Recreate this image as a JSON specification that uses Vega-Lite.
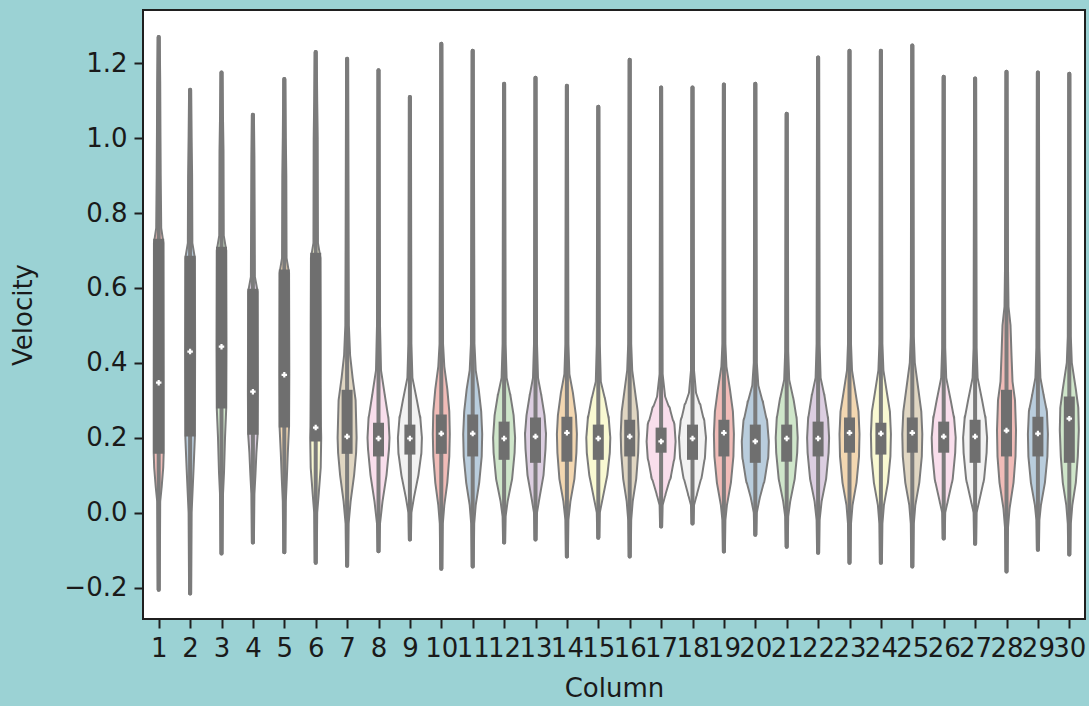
{
  "$schema": "https://vega.github.io/schema/vega-lite/v6.json",
  "width": 942,
  "height": 609,
  "autosize": {"type": "none"},
  "padding": {"left": 143, "top": 10, "right": 4, "bottom": 87},
  "background": "#9bd2d4",
  "config": {
    "view": {"fill": "white", "stroke": "#1f1f1f", "strokeWidth": 2},
    "axis": {"domain": false, "grid": false, "tickColor": "#1f1f1f", "tickWidth": 2, "tickSize": 9, "labelFont": "DejaVu Sans", "labelFontSize": 26, "labelColor": "#1a1a1a", "labelPadding": 7, "titleFont": "DejaVu Sans", "titleFontSize": 26, "titleFontWeight": "normal", "titleColor": "#1a1a1a"}
  },
  "datasets": {
    "violin": [
      {"column":1,"velocity":-0.206,"density":0},{"column":1,"velocity":0.03,"density":1},{"column":1,"velocity":0.07,"density":4},{"column":1,"velocity":0.12,"density":7},{"column":1,"velocity":0.16,"density":8},{"column":1,"velocity":0.35,"density":8},{"column":1,"velocity":0.72,"density":7.5},{"column":1,"velocity":0.76,"density":3},{"column":1,"velocity":0.9,"density":2},{"column":1,"velocity":1.01,"density":1.5},{"column":1,"velocity":1.15,"density":1},{"column":1,"velocity":1.27,"density":0},
      {"column":2,"velocity":-0.216,"density":0},{"column":2,"velocity":0.0,"density":1},{"column":2,"velocity":0.03,"density":2},{"column":2,"velocity":0.12,"density":5},{"column":2,"velocity":0.2,"density":7.5},{"column":2,"velocity":0.43,"density":8},{"column":2,"velocity":0.68,"density":7.5},{"column":2,"velocity":0.72,"density":2.5},{"column":2,"velocity":0.9,"density":2},{"column":2,"velocity":1.0,"density":1},{"column":2,"velocity":1.129,"density":0},
      {"column":3,"velocity":-0.109,"density":0},{"column":3,"velocity":0.05,"density":1},{"column":3,"velocity":0.107,"density":3},{"column":3,"velocity":0.2,"density":5},{"column":3,"velocity":0.28,"density":7.5},{"column":3,"velocity":0.44,"density":8},{"column":3,"velocity":0.7,"density":7.5},{"column":3,"velocity":0.74,"density":2.5},{"column":3,"velocity":0.965,"density":2},{"column":3,"velocity":1.05,"density":1},{"column":3,"velocity":1.175,"density":0},
      {"column":4,"velocity":-0.08,"density":0},{"column":4,"velocity":0.05,"density":1},{"column":4,"velocity":0.1,"density":3},{"column":4,"velocity":0.16,"density":5},{"column":4,"velocity":0.21,"density":7.5},{"column":4,"velocity":0.32,"density":8},{"column":4,"velocity":0.59,"density":7.5},{"column":4,"velocity":0.63,"density":2},{"column":4,"velocity":0.8,"density":1.5},{"column":4,"velocity":0.95,"density":1},{"column":4,"velocity":1.062,"density":0},
      {"column":5,"velocity":-0.106,"density":0},{"column":5,"velocity":0.03,"density":1},{"column":5,"velocity":0.09,"density":3},{"column":5,"velocity":0.16,"density":5},{"column":5,"velocity":0.23,"density":7.5},{"column":5,"velocity":0.37,"density":8},{"column":5,"velocity":0.64,"density":7.5},{"column":5,"velocity":0.68,"density":2.5},{"column":5,"velocity":0.9,"density":2},{"column":5,"velocity":1.0,"density":1},{"column":5,"velocity":1.158,"density":0},
      {"column":6,"velocity":-0.134,"density":0},{"column":6,"velocity":0.0,"density":1},{"column":6,"velocity":0.05,"density":4},{"column":6,"velocity":0.12,"density":8},{"column":6,"velocity":0.2,"density":9},{"column":6,"velocity":0.23,"density":8.5},{"column":6,"velocity":0.35,"density":8},{"column":6,"velocity":0.5,"density":8},{"column":6,"velocity":0.68,"density":7.5},{"column":6,"velocity":0.72,"density":2.5},{"column":6,"velocity":1.0,"density":2},{"column":6,"velocity":1.1,"density":1},{"column":6,"velocity":1.23,"density":0},
      {"column":7,"velocity":-0.142,"density":0},{"column":7,"velocity":-0.03,"density":1},{"column":7,"velocity":0.03,"density":5},{"column":7,"velocity":0.1,"density":12},{"column":7,"velocity":0.16,"density":16},{"column":7,"velocity":0.2,"density":17},{"column":7,"velocity":0.3,"density":15},{"column":7,"velocity":0.36,"density":9},{"column":7,"velocity":0.42,"density":4},{"column":7,"velocity":0.5,"density":1.5},{"column":7,"velocity":0.7,"density":1},{"column":7,"velocity":1.212,"density":0},
      {"column":8,"velocity":-0.103,"density":0},{"column":8,"velocity":-0.03,"density":1},{"column":8,"velocity":0.03,"density":6},{"column":8,"velocity":0.1,"density":14},{"column":8,"velocity":0.17,"density":19},{"column":8,"velocity":0.2,"density":20},{"column":8,"velocity":0.25,"density":18},{"column":8,"velocity":0.31,"density":11},{"column":8,"velocity":0.38,"density":3},{"column":8,"velocity":0.5,"density":1},{"column":8,"velocity":1.181,"density":0},
      {"column":9,"velocity":-0.072,"density":0},{"column":9,"velocity":0.0,"density":1},{"column":9,"velocity":0.04,"density":6},{"column":9,"velocity":0.1,"density":15},{"column":9,"velocity":0.16,"density":21},{"column":9,"velocity":0.2,"density":22},{"column":9,"velocity":0.25,"density":19},{"column":9,"velocity":0.3,"density":12},{"column":9,"velocity":0.36,"density":3},{"column":9,"velocity":0.45,"density":1},{"column":9,"velocity":1.11,"density":0},
      {"column":10,"velocity":-0.15,"density":0},{"column":10,"velocity":-0.03,"density":1},{"column":10,"velocity":0.02,"density":4},{"column":10,"velocity":0.08,"density":10},{"column":10,"velocity":0.15,"density":14},{"column":10,"velocity":0.21,"density":15},{"column":10,"velocity":0.27,"density":14},{"column":10,"velocity":0.33,"density":10},{"column":10,"velocity":0.39,"density":4},{"column":10,"velocity":0.45,"density":1.5},{"column":10,"velocity":1.252,"density":0},
      {"column":11,"velocity":-0.144,"density":0},{"column":11,"velocity":-0.03,"density":1},{"column":11,"velocity":0.02,"density":4},{"column":11,"velocity":0.08,"density":11},{"column":11,"velocity":0.15,"density":16},{"column":11,"velocity":0.21,"density":17},{"column":11,"velocity":0.27,"density":15},{"column":11,"velocity":0.33,"density":10},{"column":11,"velocity":0.38,"density":4},{"column":11,"velocity":0.45,"density":1.5},{"column":11,"velocity":1.233,"density":0},
      {"column":12,"velocity":-0.08,"density":0},{"column":12,"velocity":-0.01,"density":1},{"column":12,"velocity":0.03,"density":5},{"column":12,"velocity":0.09,"density":14},{"column":12,"velocity":0.16,"density":19},{"column":12,"velocity":0.2,"density":20},{"column":12,"velocity":0.26,"density":17},{"column":12,"velocity":0.31,"density":11},{"column":12,"velocity":0.36,"density":3},{"column":12,"velocity":0.45,"density":1},{"column":12,"velocity":1.145,"density":0},
      {"column":13,"velocity":-0.072,"density":0},{"column":13,"velocity":0.0,"density":1},{"column":13,"velocity":0.04,"density":6},{"column":13,"velocity":0.1,"density":14},{"column":13,"velocity":0.17,"density":18},{"column":13,"velocity":0.21,"density":19},{"column":13,"velocity":0.26,"density":16},{"column":13,"velocity":0.31,"density":10},{"column":13,"velocity":0.36,"density":3},{"column":13,"velocity":0.45,"density":1},{"column":13,"velocity":1.161,"density":0},
      {"column":14,"velocity":-0.117,"density":0},{"column":14,"velocity":-0.02,"density":1},{"column":14,"velocity":0.03,"density":5},{"column":14,"velocity":0.09,"density":13},{"column":14,"velocity":0.16,"density":17},{"column":14,"velocity":0.21,"density":18},{"column":14,"velocity":0.26,"density":16},{"column":14,"velocity":0.32,"density":10},{"column":14,"velocity":0.37,"density":3},{"column":14,"velocity":0.45,"density":1},{"column":14,"velocity":1.14,"density":0},
      {"column":15,"velocity":-0.067,"density":0},{"column":15,"velocity":0.0,"density":1},{"column":15,"velocity":0.04,"density":7},{"column":15,"velocity":0.1,"density":16},{"column":15,"velocity":0.16,"density":21},{"column":15,"velocity":0.2,"density":22},{"column":15,"velocity":0.25,"density":19},{"column":15,"velocity":0.3,"density":12},{"column":15,"velocity":0.35,"density":3},{"column":15,"velocity":0.45,"density":1},{"column":15,"velocity":1.084,"density":0},
      {"column":16,"velocity":-0.117,"density":0},{"column":16,"velocity":-0.02,"density":1},{"column":16,"velocity":0.03,"density":4},{"column":16,"velocity":0.09,"density":11},{"column":16,"velocity":0.16,"density":15},{"column":16,"velocity":0.21,"density":16},{"column":16,"velocity":0.27,"density":14},{"column":16,"velocity":0.32,"density":9},{"column":16,"velocity":0.38,"density":3},{"column":16,"velocity":0.45,"density":1},{"column":16,"velocity":1.209,"density":0},
      {"column":17,"velocity":-0.037,"density":0},{"column":17,"velocity":0.02,"density":1},{"column":17,"velocity":0.05,"density":7},{"column":17,"velocity":0.1,"density":18},{"column":17,"velocity":0.15,"density":25},{"column":17,"velocity":0.19,"density":27},{"column":17,"velocity":0.23,"density":25},{"column":17,"velocity":0.27,"density":17},{"column":17,"velocity":0.31,"density":6},{"column":17,"velocity":0.37,"density":1},{"column":17,"velocity":1.135,"density":0},
      {"column":18,"velocity":-0.029,"density":0},{"column":18,"velocity":0.02,"density":1},{"column":18,"velocity":0.05,"density":7},{"column":18,"velocity":0.1,"density":17},{"column":18,"velocity":0.15,"density":23},{"column":18,"velocity":0.2,"density":25},{"column":18,"velocity":0.24,"density":22},{"column":18,"velocity":0.28,"density":15},{"column":18,"velocity":0.32,"density":5},{"column":18,"velocity":0.38,"density":1},{"column":18,"velocity":1.135,"density":0},
      {"column":19,"velocity":-0.104,"density":0},{"column":19,"velocity":-0.02,"density":1},{"column":19,"velocity":0.02,"density":4},{"column":19,"velocity":0.08,"density":12},{"column":19,"velocity":0.15,"density":17},{"column":19,"velocity":0.21,"density":18},{"column":19,"velocity":0.27,"density":16},{"column":19,"velocity":0.33,"density":10},{"column":19,"velocity":0.39,"density":3},{"column":19,"velocity":0.45,"density":1},{"column":19,"velocity":1.143,"density":0},
      {"column":20,"velocity":-0.059,"density":0},{"column":20,"velocity":0.0,"density":1},{"column":20,"velocity":0.04,"density":7},{"column":20,"velocity":0.09,"density":17},{"column":20,"velocity":0.15,"density":24},{"column":20,"velocity":0.19,"density":25},{"column":20,"velocity":0.24,"density":22},{"column":20,"velocity":0.29,"density":14},{"column":20,"velocity":0.34,"density":4},{"column":20,"velocity":0.4,"density":1},{"column":20,"velocity":1.145,"density":0},
      {"column":21,"velocity":-0.091,"density":0},{"column":21,"velocity":-0.01,"density":1},{"column":21,"velocity":0.03,"density":5},{"column":21,"velocity":0.09,"density":14},{"column":21,"velocity":0.16,"density":19},{"column":21,"velocity":0.2,"density":20},{"column":21,"velocity":0.25,"density":18},{"column":21,"velocity":0.3,"density":12},{"column":21,"velocity":0.355,"density":3},{"column":21,"velocity":0.43,"density":1},{"column":21,"velocity":1.065,"density":0},
      {"column":22,"velocity":-0.107,"density":0},{"column":22,"velocity":-0.02,"density":1},{"column":22,"velocity":0.03,"density":5},{"column":22,"velocity":0.09,"density":14},{"column":22,"velocity":0.16,"density":19},{"column":22,"velocity":0.2,"density":20},{"column":22,"velocity":0.25,"density":18},{"column":22,"velocity":0.31,"density":11},{"column":22,"velocity":0.36,"density":3},{"column":22,"velocity":0.45,"density":1},{"column":22,"velocity":1.215,"density":0},
      {"column":23,"velocity":-0.134,"density":0},{"column":23,"velocity":-0.03,"density":1},{"column":23,"velocity":0.02,"density":4},{"column":23,"velocity":0.08,"density":12},{"column":23,"velocity":0.15,"density":17},{"column":23,"velocity":0.21,"density":18},{"column":23,"velocity":0.27,"density":16},{"column":23,"velocity":0.32,"density":10},{"column":23,"velocity":0.38,"density":3},{"column":23,"velocity":0.45,"density":1},{"column":23,"velocity":1.233,"density":0},
      {"column":24,"velocity":-0.134,"density":0},{"column":24,"velocity":-0.03,"density":1},{"column":24,"velocity":0.02,"density":4},{"column":24,"velocity":0.08,"density":12},{"column":24,"velocity":0.15,"density":17},{"column":24,"velocity":0.21,"density":18},{"column":24,"velocity":0.27,"density":16},{"column":24,"velocity":0.32,"density":10},{"column":24,"velocity":0.38,"density":3},{"column":24,"velocity":0.45,"density":1},{"column":24,"velocity":1.233,"density":0},
      {"column":25,"velocity":-0.144,"density":0},{"column":25,"velocity":-0.03,"density":1},{"column":25,"velocity":0.02,"density":4},{"column":25,"velocity":0.08,"density":12},{"column":25,"velocity":0.15,"density":17},{"column":25,"velocity":0.21,"density":18},{"column":25,"velocity":0.27,"density":16},{"column":25,"velocity":0.33,"density":10},{"column":25,"velocity":0.4,"density":3},{"column":25,"velocity":0.47,"density":1},{"column":25,"velocity":1.247,"density":0},
      {"column":26,"velocity":-0.069,"density":0},{"column":26,"velocity":0.0,"density":1},{"column":26,"velocity":0.03,"density":6},{"column":26,"velocity":0.09,"density":16},{"column":26,"velocity":0.16,"density":21},{"column":26,"velocity":0.2,"density":22},{"column":26,"velocity":0.25,"density":19},{"column":26,"velocity":0.3,"density":12},{"column":26,"velocity":0.36,"density":3},{"column":26,"velocity":0.44,"density":1},{"column":26,"velocity":1.164,"density":0},
      {"column":27,"velocity":-0.083,"density":0},{"column":27,"velocity":0.0,"density":1},{"column":27,"velocity":0.03,"density":6},{"column":27,"velocity":0.09,"density":16},{"column":27,"velocity":0.16,"density":21},{"column":27,"velocity":0.2,"density":22},{"column":27,"velocity":0.25,"density":19},{"column":27,"velocity":0.3,"density":12},{"column":27,"velocity":0.36,"density":3},{"column":27,"velocity":0.44,"density":1},{"column":27,"velocity":1.159,"density":0},
      {"column":28,"velocity":-0.157,"density":0},{"column":28,"velocity":-0.04,"density":1},{"column":28,"velocity":0.01,"density":4},{"column":28,"velocity":0.08,"density":12},{"column":28,"velocity":0.15,"density":16},{"column":28,"velocity":0.22,"density":17},{"column":28,"velocity":0.3,"density":15},{"column":28,"velocity":0.35,"density":10},{"column":28,"velocity":0.42,"density":8},{"column":28,"velocity":0.5,"density":6},{"column":28,"velocity":0.55,"density":2},{"column":28,"velocity":0.65,"density":1},{"column":28,"velocity":1.177,"density":0},
      {"column":29,"velocity":-0.099,"density":0},{"column":29,"velocity":-0.02,"density":1},{"column":29,"velocity":0.02,"density":4},{"column":29,"velocity":0.08,"density":12},{"column":29,"velocity":0.15,"density":17},{"column":29,"velocity":0.21,"density":18},{"column":29,"velocity":0.27,"density":16},{"column":29,"velocity":0.31,"density":10},{"column":29,"velocity":0.36,"density":3},{"column":29,"velocity":0.44,"density":1},{"column":29,"velocity":1.175,"density":0},
      {"column":30,"velocity":-0.112,"density":0},{"column":30,"velocity":-0.03,"density":1},{"column":30,"velocity":0.02,"density":4},{"column":30,"velocity":0.08,"density":11},{"column":30,"velocity":0.15,"density":15},{"column":30,"velocity":0.22,"density":17},{"column":30,"velocity":0.28,"density":16},{"column":30,"velocity":0.33,"density":11},{"column":30,"velocity":0.4,"density":3},{"column":30,"velocity":0.47,"density":1},{"column":30,"velocity":1.172,"density":0}
    ],
    "stats": [
      {"column":1,"low":-0.206,"high":1.27,"q1":0.157,"q3":0.731,"median":0.347},
      {"column":2,"low":-0.216,"high":1.129,"q1":0.203,"q3":0.686,"median":0.43},
      {"column":3,"low":-0.109,"high":1.175,"q1":0.278,"q3":0.71,"median":0.443},
      {"column":4,"low":-0.08,"high":1.062,"q1":0.208,"q3":0.598,"median":0.323},
      {"column":5,"low":-0.106,"high":1.158,"q1":0.227,"q3":0.649,"median":0.368},
      {"column":6,"low":-0.134,"high":1.23,"q1":0.19,"q3":0.694,"median":0.227},
      {"column":7,"low":-0.142,"high":1.212,"q1":0.157,"q3":0.328,"median":0.203},
      {"column":8,"low":-0.103,"high":1.181,"q1":0.15,"q3":0.24,"median":0.198},
      {"column":9,"low":-0.072,"high":1.11,"q1":0.155,"q3":0.235,"median":0.198},
      {"column":10,"low":-0.15,"high":1.252,"q1":0.157,"q3":0.262,"median":0.211},
      {"column":11,"low":-0.144,"high":1.233,"q1":0.15,"q3":0.262,"median":0.211},
      {"column":12,"low":-0.08,"high":1.145,"q1":0.141,"q3":0.243,"median":0.198},
      {"column":13,"low":-0.072,"high":1.161,"q1":0.133,"q3":0.254,"median":0.203},
      {"column":14,"low":-0.117,"high":1.14,"q1":0.136,"q3":0.256,"median":0.213},
      {"column":15,"low":-0.067,"high":1.084,"q1":0.141,"q3":0.235,"median":0.198},
      {"column":16,"low":-0.117,"high":1.209,"q1":0.15,"q3":0.248,"median":0.203},
      {"column":17,"low":-0.037,"high":1.135,"q1":0.16,"q3":0.227,"median":0.19},
      {"column":18,"low":-0.029,"high":1.135,"q1":0.141,"q3":0.235,"median":0.198},
      {"column":19,"low":-0.104,"high":1.143,"q1":0.15,"q3":0.248,"median":0.213},
      {"column":20,"low":-0.059,"high":1.145,"q1":0.133,"q3":0.235,"median":0.19},
      {"column":21,"low":-0.091,"high":1.065,"q1":0.136,"q3":0.235,"median":0.198},
      {"column":22,"low":-0.107,"high":1.215,"q1":0.15,"q3":0.243,"median":0.198},
      {"column":23,"low":-0.134,"high":1.233,"q1":0.16,"q3":0.254,"median":0.213},
      {"column":24,"low":-0.134,"high":1.233,"q1":0.155,"q3":0.24,"median":0.211},
      {"column":25,"low":-0.144,"high":1.247,"q1":0.16,"q3":0.254,"median":0.213},
      {"column":26,"low":-0.069,"high":1.164,"q1":0.16,"q3":0.243,"median":0.203},
      {"column":27,"low":-0.083,"high":1.159,"q1":0.133,"q3":0.248,"median":0.203},
      {"column":28,"low":-0.157,"high":1.177,"q1":0.15,"q3":0.328,"median":0.219},
      {"column":29,"low":-0.099,"high":1.175,"q1":0.15,"q3":0.256,"median":0.211},
      {"column":30,"low":-0.112,"high":1.172,"q1":0.133,"q3":0.31,"median":0.251}
    ]
  },
  "encoding": {
    "x": {"field": "column", "type": "ordinal", "title": "Column", "scale": {"type": "point", "padding": 0.5}, "axis": {"labelAngle": 0, "labelOverlap": false, "labelBound": false, "titlePadding": 14}}
  },
  "layer": [
    {
      "data": {"name": "violin"},
      "mark": {"type": "trail", "color": "#7b7b7b"},
      "encoding": {
        "y": {"field": "velocity", "type": "quantitative", "title": "Velocity", "scale": {"domain": [-0.284, 1.342], "nice": false, "zero": false}, "axis": {"values": [-0.2, 0, 0.2, 0.4, 0.6, 0.8, 1.0, 1.2], "format": ".1f", "titlePadding": 27}},
        "size": {"field": "density", "type": "quantitative", "scale": {"domain": [0, 30], "range": [4, 34]}, "legend": null},
        "detail": {"field": "column"},
        "order": {"field": "velocity", "type": "quantitative"}
      }
    },
    {
      "data": {"name": "violin"},
      "mark": {"type": "trail"},
      "encoding": {
        "y": {"field": "velocity", "type": "quantitative", "title": "Velocity"},
        "size": {"field": "density", "type": "quantitative", "scale": {"domain": [0, 30], "range": [0, 30]}, "legend": null},
        "color": {"field": "column", "type": "ordinal", "scale": {"range": ["#f1bcb8", "#b9cddd", "#cfe6ca", "#dccee1", "#f3d7b1", "#f9f9d2", "#e0d6c2", "#f9deec", "#f2f2f2"]}, "legend": null},
        "order": {"field": "velocity", "type": "quantitative"}
      }
    },
    {
      "data": {"name": "stats"},
      "mark": {"type": "rule", "color": "#7b7b7b", "strokeWidth": 4, "strokeCap": "round"},
      "encoding": {
        "y": {"field": "low", "type": "quantitative", "title": "Velocity"},
        "y2": {"field": "high"}
      }
    },
    {
      "data": {"name": "stats"},
      "mark": {"type": "rule", "color": "#6f6f6f", "strokeWidth": 11},
      "encoding": {
        "y": {"field": "q1", "type": "quantitative", "title": "Velocity"},
        "y2": {"field": "q3"}
      }
    },
    {
      "data": {"name": "stats"},
      "mark": {"type": "point", "filled": true, "shape": "cross", "color": "white", "opacity": 1, "size": 30},
      "encoding": {
        "y": {"field": "median", "type": "quantitative", "title": "Velocity"}
      }
    }
  ],
  "resolve": {"scale": {"size": "independent"}}
}
